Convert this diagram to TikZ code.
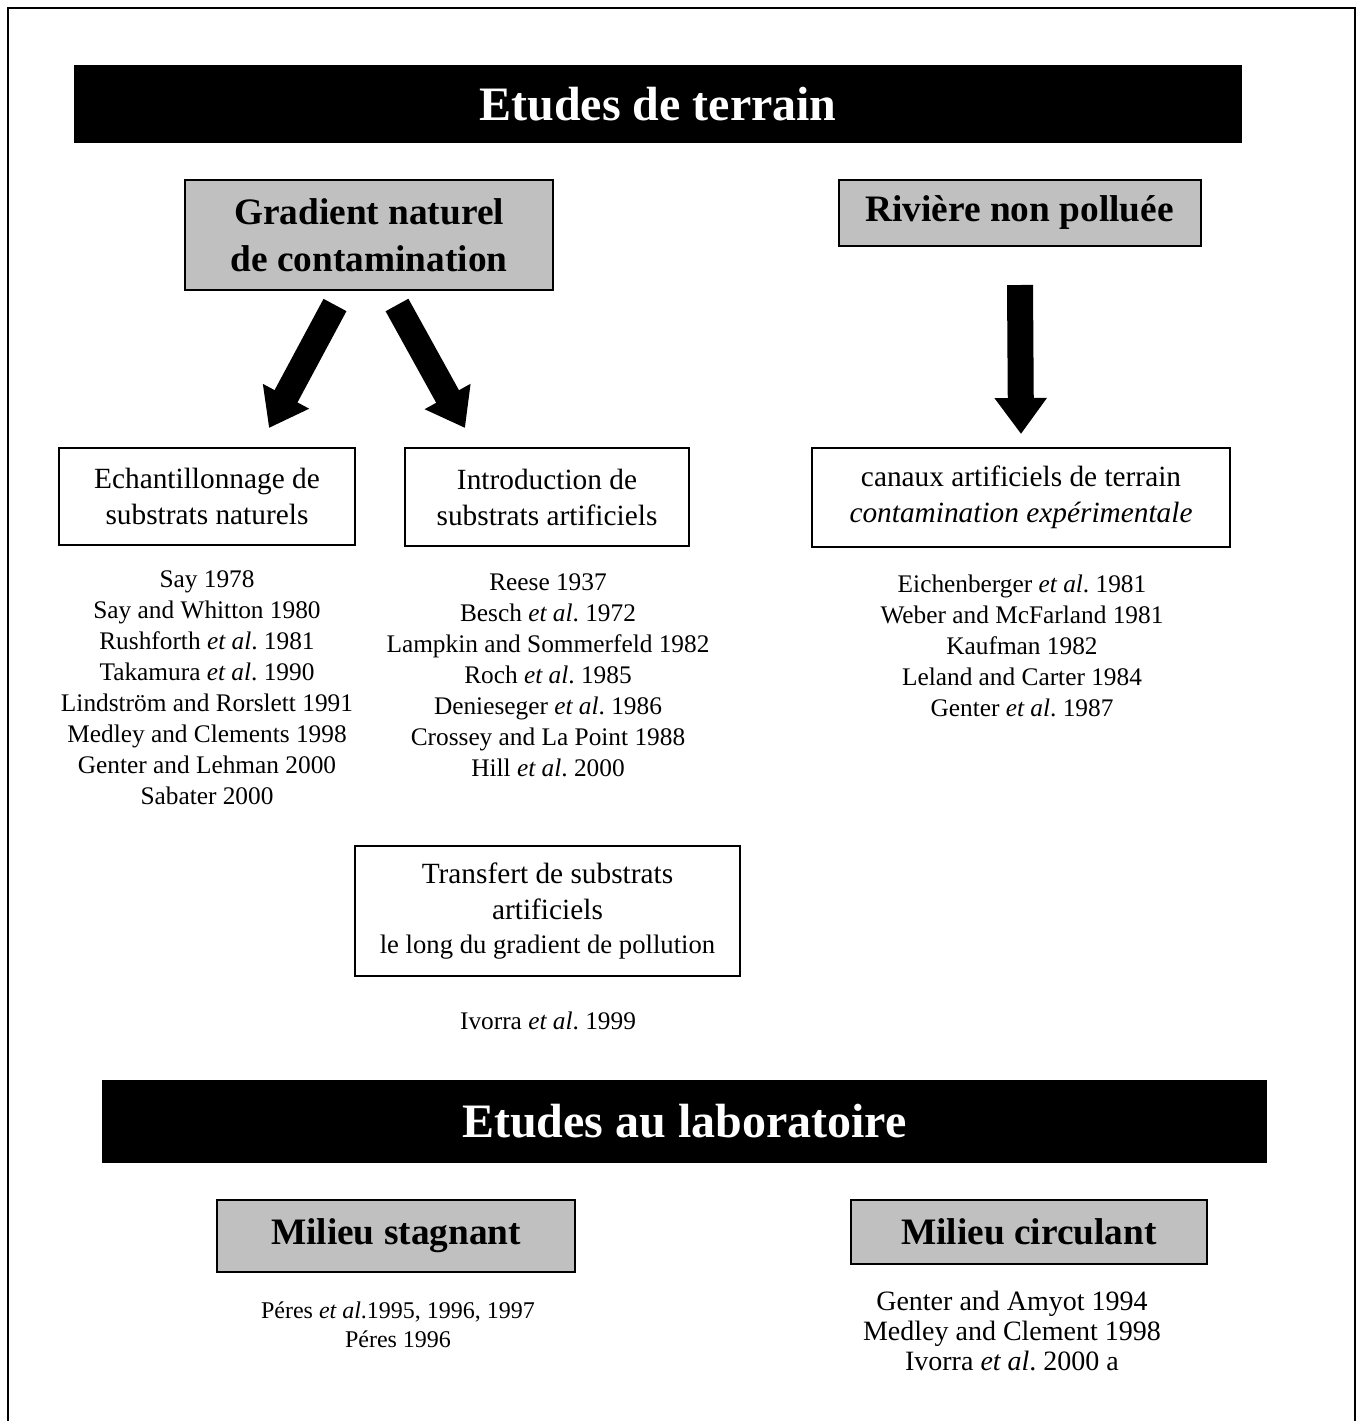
\documentclass[tikz,border=0pt]{standalone}
\usepackage{fontspec}
\setmainfont{Liberation Serif}
\usetikzlibrary{arrows.meta}
\definecolor{panelgrey}{HTML}{C0C0C0}
\frenchspacing

\tikzset{
  sz/.style 2 args={minimum width=#1*0.75pt, minimum height=#2*0.75pt},
  banner/.style={fill=black, draw=none, text=white, inner sep=0pt,
    font=\fontsize{36pt}{40pt}\selectfont\bfseries},
  greybox/.style={fill=panelgrey, draw=black, line width=1.5pt, inner sep=0pt,
    align=center, font=\fontsize{28pt}{35pt}\selectfont\bfseries},
  whitebox/.style={fill=white, draw=black, line width=1.5pt, inner sep=0pt,
    align=center, font=\fontsize{22pt}{27pt}\selectfont},
  reflist/.style={align=center, inner sep=0pt,
    font=\fontsize{19pt}{23.25pt}\selectfont},
  bigarrow/.style={line width=19.5pt,
    -{Triangle[width=37.5pt, length=27pt]}},
}

\begin{document}
\begin{tikzpicture}[x=0.75pt, y=-0.75pt]
  \path[use as bounding box, clip] (0,0) rectangle (1358,1421);
  \fill[white] (0,0) rectangle (1358,1421);

  % page frame (runs off the lower edge)
  \draw[line width=1.5pt] (7.5,1440) -- (7.5,7.5) -- (1354.5,7.5) -- (1354.5,1440);

  % ---- field studies ----
  \node[banner, sz={1168}{78}] (terrain) at (658,104) {Etudes de terrain};

  \node[greybox, sz={368}{110}] (gradient) at (369,235)
    {Gradient naturel\\de contamination};
  \node[greybox, sz={362}{66}] (riviere) at (1019.5,212.5)
    {Rivière non polluée};

  \node[whitebox, sz={296}{97}] (echant) at (207,496)
    {Echantillonnage de\\substrats naturels};
  \node[whitebox, sz={284}{98}] (intro) at (547,497)
    {Introduction de\\substrats artificiels};
  \node[whitebox, sz={418}{99}] (canaux) at (1021,497.5)
    {canaux artificiels de terrain\\\textit{contamination expérimentale}};

  \coordinate (gl) at (335,305);
  \coordinate (el) at (269,428);
  \coordinate (gr) at (397,305);
  \coordinate (ir) at (465,428);
  \coordinate (rv) at (1020,285);
  \coordinate (cv) at (1021,434);
  \draw[bigarrow] (gl) -- (el);
  \draw[bigarrow] (gr) -- (ir);
  \draw[bigarrow] (rv) -- (cv);

  \node[reflist] (refsA) at (207,688) {%
    Say 1978\\
    Say and Whitton 1980\\
    Rushforth \textit{et al}. 1981\\
    Takamura \textit{et al}. 1990\\
    Lindström and Rorslett 1991\\
    Medley and Clements 1998\\
    Genter and Lehman 2000\\
    Sabater 2000};
  \node[reflist] (refsB) at (548,675) {%
    Reese 1937\\
    Besch \textit{et al}. 1972\\
    Lampkin and Sommerfeld 1982\\
    Roch \textit{et al}. 1985\\
    Denieseger \textit{et al}. 1986\\
    Crossey and La Point 1988\\
    Hill \textit{et al}. 2000};
  \node[reflist] (refsC) at (1022,646) {%
    Eichenberger \textit{et al}. 1981\\
    Weber and McFarland 1981\\
    Kaufman 1982\\
    Leland and Carter 1984\\
    Genter \textit{et al}. 1987};

  \node[whitebox, sz={385}{130}] (transfert) at (547.5,911)
    {Transfert de substrats\\artificiels\\[-2pt]
     {\fontsize{20pt}{24pt}\selectfont le long du gradient de pollution}};
  \node[reflist] (refsD) at (548,1021) {Ivorra \textit{et al}. 1999};

  % ---- laboratory studies ----
  \node[banner, sz={1165}{83}] (labo) at (684.5,1121) {Etudes au laboratoire};

  \node[greybox, sz={358}{72}] (stagnant) at (396,1236) {Milieu stagnant};
  \node[greybox, sz={356}{64}] (circulant) at (1029,1232) {Milieu circulant};

  \node[reflist, font=\fontsize{18pt}{22pt}\selectfont] (refsE) at (398,1324.5) {%
    Péres \textit{et al}.1995, 1996, 1997\\
    Péres 1996};
  \node[reflist, font=\fontsize{21pt}{22.5pt}\selectfont] (refsF) at (1012,1331) {%
    Genter and Amyot 1994\\
    Medley and Clement 1998\\
    Ivorra \textit{et al}. 2000 a};
\end{tikzpicture}
\end{document}
